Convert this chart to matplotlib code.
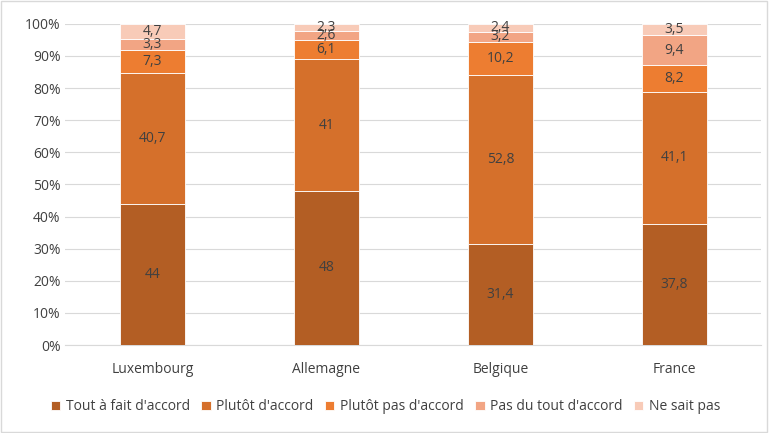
import matplotlib
matplotlib.use("Agg")
import matplotlib.pyplot as plt
from matplotlib.ticker import PercentFormatter

countries = ["Luxembourg", "Allemagne", "Belgique", "France"]
series = ["Tout à fait d'accord", "Plutôt d'accord", "Plutôt pas d'accord", "Pas du tout d'accord", "Ne sait pas"]
tout = [44, 48, 31.4, 37.8]
plutot = [40.7, 41, 52.8, 41.1]
plutot_pas = [7.3, 6.1, 10.2, 8.2]
pas_du_tout = [3.3, 2.6, 3.2, 9.4]
ne_sait = [4.7, 2.3, 2.4, 3.5]
values = [tout, plutot, plutot_pas, pas_du_tout, ne_sait]
colors = ["#B35E24", "#D5702B", "#ED7D31", "#F2A584", "#F8CBB8"]

plt.rcParams["font.family"] = "Open Sans"
fig = plt.figure(figsize=(7.69, 4.33), dpi=100)
ax = fig.add_axes([0.085, 0.203, 0.905, 0.742])
x = range(len(countries))
bottoms = [0] * 4
for name, vals, c in zip(series, values, colors):
    fr = [v / 100 for v in vals]
    ax.bar(x, fr, 0.37, bottom=bottoms, color=c, label=name, edgecolor="white", linewidth=0.6, zorder=3)
    for i, (b, f, v) in enumerate(zip(bottoms, fr, vals)):
        ax.text(i, b + f / 2, f"{v:g}".replace(".", ","), ha="center", va="center",
                fontsize=10, color="#404040", zorder=4)
    bottoms = [b + f for b, f in zip(bottoms, fr)]

ax.set_ylim(0, 1)
ax.set_xlim(-0.5, 3.5)
ax.set_yticks([i / 10 for i in range(11)])
ax.yaxis.set_major_formatter(PercentFormatter(1, decimals=0))
ax.set_xticks(list(x))
ax.set_xticklabels(countries)
ax.tick_params(length=0, labelsize=10, colors="#404040")
ax.tick_params(axis="x", pad=12)
ax.grid(axis="y", color="#D9D9D9", linewidth=0.8, zorder=0)
for s in ["top", "right", "left"]:
    ax.spines[s].set_visible(False)
ax.spines["bottom"].set_color("#D9D9D9")
ax.legend(loc="upper center", bbox_to_anchor=(0.46, -0.13), ncol=5, frameon=False,
          fontsize=10, handlelength=0.7, handleheight=0.7, columnspacing=0.8, handletextpad=0.4,
          labelcolor="#404040")
fig.patches.append(plt.Rectangle((0.001, 0.002), 0.997, 0.996, transform=fig.transFigure,
                                 fill=False, edgecolor="#D9D9D9", linewidth=1))
fig.savefig("out.png", dpi=100)
